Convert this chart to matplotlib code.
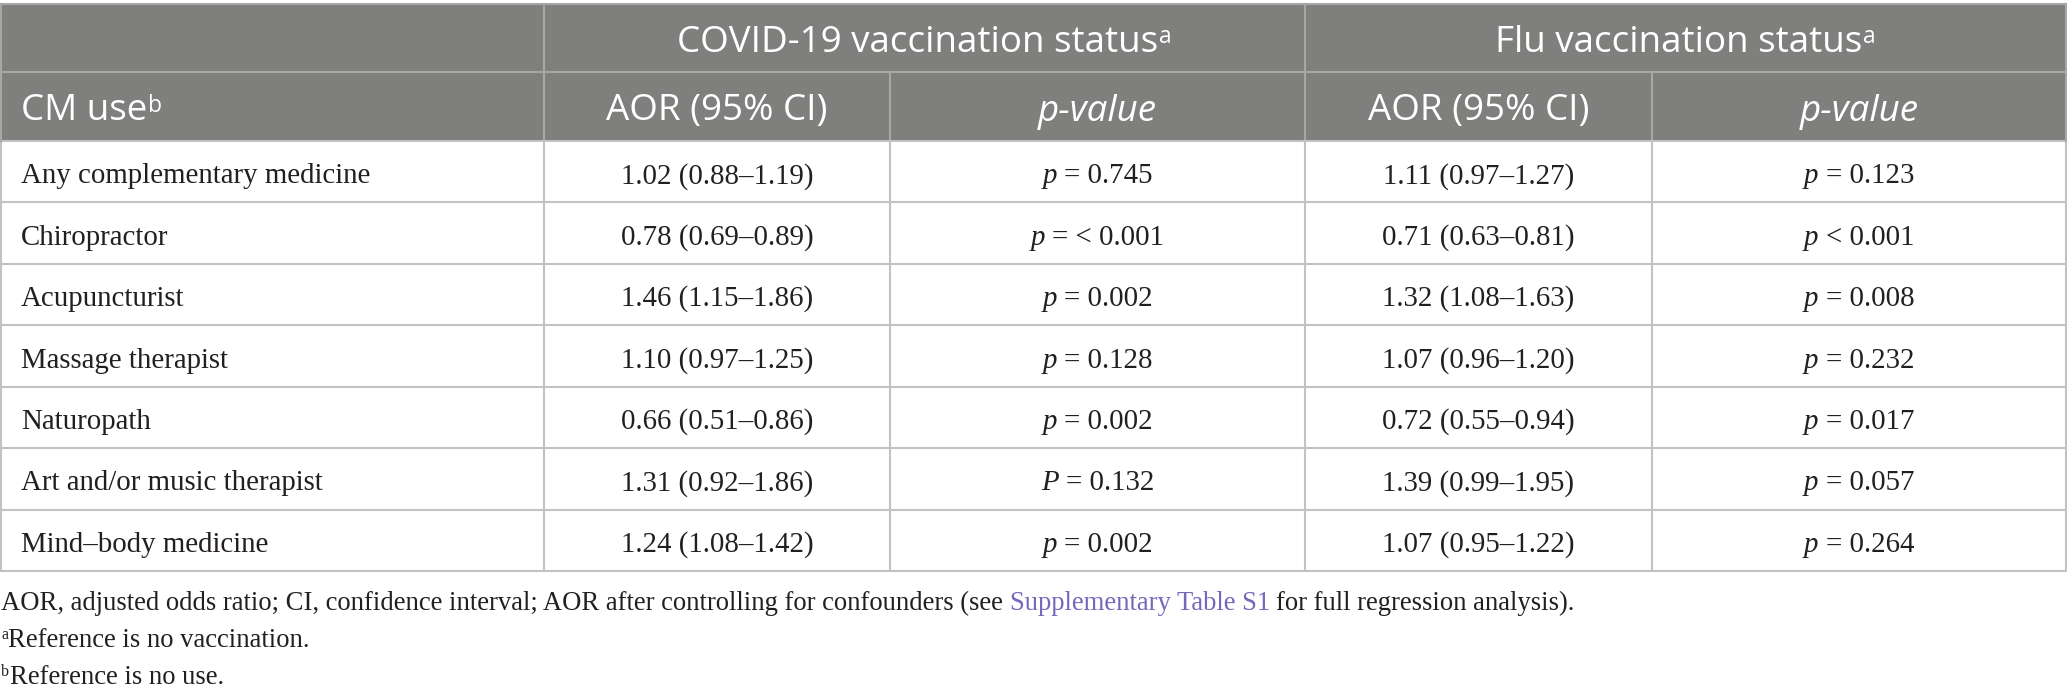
import matplotlib
matplotlib.use("Agg")
import matplotlib.pyplot as plt
from matplotlib.patches import Rectangle

# ---------------- data ----------------
cm_use = ["Any complementary medicine", "Chiropractor", "Acupuncturist",
          "Massage therapist", "Naturopath", "Art and/or music therapist",
          "Mind\u2013body medicine"]
covid_aor = ["1.02 (0.88\u20131.19)", "0.78 (0.69\u20130.89)", "1.46 (1.15\u20131.86)",
             "1.10 (0.97\u20131.25)", "0.66 (0.51\u20130.86)", "1.31 (0.92\u20131.86)",
             "1.24 (1.08\u20131.42)"]
covid_p_letter = ["p", "p", "p", "p", "p", "P", "p"]
covid_p = ["= 0.745", "= < 0.001", "= 0.002", "= 0.128", "= 0.002", "= 0.132", "= 0.002"]
flu_aor = ["1.11 (0.97\u20131.27)", "0.71 (0.63\u20130.81)", "1.32 (1.08\u20131.63)",
           "1.07 (0.96\u20131.20)", "0.72 (0.55\u20130.94)", "1.39 (0.99\u20131.95)",
           "1.07 (0.95\u20131.22)"]
flu_p_letter = ["p", "p", "p", "p", "p", "p", "p"]
flu_p = ["= 0.123", "< 0.001", "= 0.008", "= 0.232", "= 0.017", "= 0.057", "= 0.264"]

group_headers = ["COVID-19 vaccination status", "Flu vaccination status"]
col_headers = ["CM use", "AOR (95% CI)", "p-value", "AOR (95% CI)", "p-value"]
footnote1 = ["AOR, adjusted odds ratio; CI, confidence interval; AOR after controlling for confounders (see",
             "Supplementary Table S1", "for full regression analysis)."]
footnote2 = "Reference is no vaccination."
footnote3 = "Reference is no use."

# ---------------- layout ----------------
W, H = 2067, 698
fig = plt.figure(figsize=(W / 100, H / 100), dpi=100)
ax = fig.add_axes([0, 0, 1, 1])
ax.set_xlim(0, W)
ax.set_ylim(H, 0)
ax.axis("off")

col_x = [0, 544, 890, 1305, 1652, 2066]
top = 4
h1 = 72
h2 = 141
bottom = 571
nrows = len(cm_use)
row_h = (bottom - h2) / nrows

HEAD_BG = "#7f807e"
HEAD_LINE = "#a7a8a6"
GRID = "#c2c2c2"
TXT = "#231f20"
LINK = "#7468bb"
SANS = "Open Sans"
SERIF = "Liberation Serif"
HFS = 26.5
DFS = 20.8
FFS = 19.2

ax.add_patch(Rectangle((0, top), W, h2 - top, facecolor=HEAD_BG, edgecolor="none"))
lw = 1.5
# header lines
ax.plot([0, W], [top, top], color=HEAD_LINE, lw=lw, solid_capstyle="butt")
ax.plot([0, W], [h1, h1], color=HEAD_LINE, lw=lw, solid_capstyle="butt")
for x in [col_x[1], col_x[3]]:
    ax.plot([x, x], [top, h1], color=HEAD_LINE, lw=lw)
for x in col_x[1:5]:
    ax.plot([x, x], [h1, h2], color=HEAD_LINE, lw=lw)
# body grid
for i in range(nrows + 1):
    y = h2 + i * row_h
    ax.plot([0, W], [y, y], color=GRID, lw=lw, solid_capstyle="butt")
for x in col_x:
    xx = max(x, 0.8)
    ax.plot([xx, xx], [h2, bottom], color=GRID, lw=lw)
for xx in [0.8, W - 0.8]:
    ax.plot([xx, xx], [top, h2], color=HEAD_LINE, lw=lw)

renderer = fig.canvas.get_renderer()


def runs(x, y, parts, ha="left"):
    """parts: list of (text, props, gap_before_px, dy_px)"""
    objs = []
    for s, props, gap, dy in parts:
        t = ax.text(0, y - dy, s, va="baseline", ha="left", **props)
        objs.append((t, gap))
    widths = [t.get_window_extent(renderer).width for t, _ in objs]
    total = sum(widths) + sum(g for _, g in objs)
    if ha == "center":
        cx = x - total / 2
    elif ha == "right":
        cx = x - total
    else:
        cx = x
    for (t, gap), w in zip(objs, widths):
        cx += gap
        t.set_x(cx)
        cx += w


hp = dict(family=SANS, fontsize=HFS, color="white")
hsup = dict(family=SANS, fontsize=HFS * 0.62, color="white")
hi = dict(family=SANS, fontsize=HFS, color="white", style="italic")

# group headers
yb1 = (top + h1) / 2 + 14
runs((col_x[1] + col_x[3]) / 2, yb1, [(group_headers[0], hp, 0, 0), ("a", hsup, 1, 9)], ha="center")
runs((col_x[3] + col_x[5]) / 2, yb1, [(group_headers[1], hp, 0, 0), ("a", hsup, 1, 9)], ha="center")

# column headers
yb2 = (h1 + h2) / 2 + 14
runs(21, yb2, [(col_headers[0], hp, 0, 0), ("b", hsup, 1, 9)])
for j in range(1, 5):
    cx = (col_x[j] + col_x[j + 1]) / 2
    props = hi if "value" in col_headers[j] else hp
    runs(cx, yb2, [(col_headers[j], props, 0, 0)], ha="center")

dp = dict(family=SERIF, fontsize=DFS, color=TXT)
di = dict(family=SERIF, fontsize=DFS, color=TXT, style="italic")
sp = DFS * 100 / 72 * 0.25

for i in range(nrows):
    yb = h2 + (i + 0.5) * row_h + 11.5
    runs(21, yb, [(cm_use[i], dp, 0, 0)])
    runs((col_x[1] + col_x[2]) / 2, yb, [(covid_aor[i], dp, 0, 0)], ha="center")
    runs((col_x[2] + col_x[3]) / 2, yb, [(covid_p_letter[i], di, 0, 0), (covid_p[i], dp, sp, 0)], ha="center")
    runs((col_x[3] + col_x[4]) / 2, yb, [(flu_aor[i], dp, 0, 0)], ha="center")
    runs((col_x[4] + col_x[5]) / 2, yb, [(flu_p_letter[i], di, 0, 0), (flu_p[i], dp, sp, 0)], ha="center")

fp = dict(family=SERIF, fontsize=FFS, color=TXT)
fl = dict(family=SERIF, fontsize=FFS, color=LINK)
fs = dict(family=SERIF, fontsize=FFS * 0.6, color=TXT)
fsp = FFS * 100 / 72 * 0.25
runs(1, 610, [(footnote1[0], fp, 0, 0), (footnote1[1], fl, fsp, 0), (footnote1[2], fp, fsp, 0)])
runs(1, 647, [("a", fs, 0, 8), (footnote2, fp, 0.5, 0)])
runs(1, 684, [("b", fs, 0, 8), (footnote3, fp, 0.5, 0)])

fig.savefig("out.png", dpi=100, facecolor="white")
